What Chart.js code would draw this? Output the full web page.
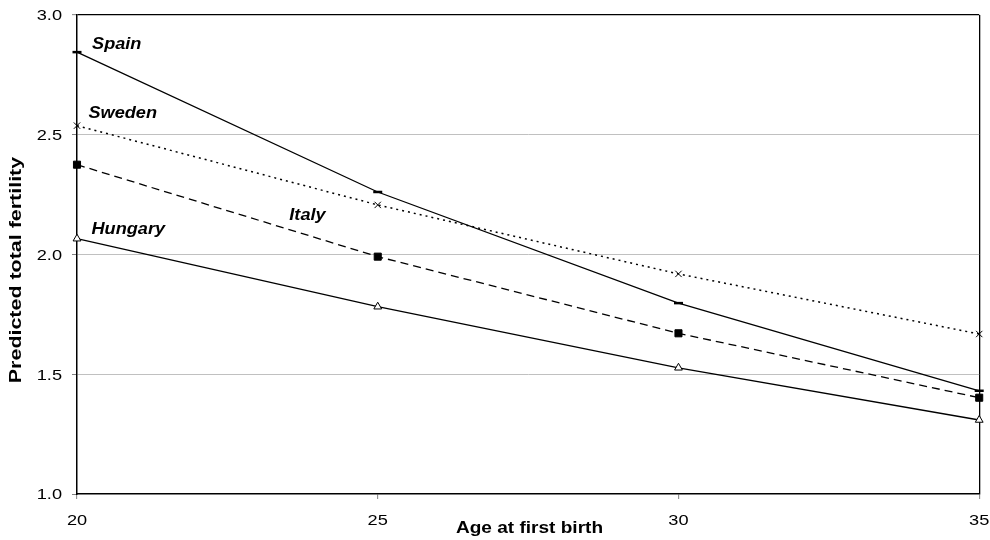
<!DOCTYPE html>
<html><head><meta charset="utf-8">
<script src="https://cdn.jsdelivr.net/npm/chart.js@4"></script>
<style>html,body{margin:0;padding:0;background:#fff}</style>
</head><body>
<canvas id="c" width="990" height="540"></canvas>
<script>
// ---- data ----
const ages = [20, 25, 30, 35];
const spain = [2.845, 2.261, 1.797, 1.431];
const sweden = [2.538, 2.207, 1.919, 1.668];
const italy = [2.375, 1.991, 1.671, 1.402];
const hungary = [2.066, 1.782, 1.527, 1.309];
const seriesNames = ['Spain', 'Sweden', 'Italy', 'Hungary'];
// label anchors in data units (age, fertility)
const labelAges = [20.25, 20.19, 23.53, 20.24];
const labelValues = [2.879, 2.591, 2.165, 2.106];
const xTitle = 'Age at first birth';
const yTitle = 'Predicted total fertility';

const pts = arr => ages.map((a, i) => ({x: a, y: arr[i]}));
const FONT = '"Liberation Sans", Arial, Helvetica, sans-serif';

function stretchText(ctx, text, x, y, sx, align, rot) {
  ctx.save();
  ctx.translate(x, y);
  if (rot) ctx.rotate(rot);
  ctx.scale(sx, 1);
  ctx.textAlign = align;
  ctx.textBaseline = 'middle';
  ctx.fillText(text, 0, 0);
  ctx.restore();
}

const textPlugin = {
  id: 'textPlugin',
  afterDraw(chart) {
    const ctx = chart.ctx;
    const xs = chart.scales.x, ys = chart.scales.y;
    ctx.save();
    ctx.fillStyle = '#000';
    ctx.font = '14px ' + FONT;
    ys.ticks.forEach(t => {
      stretchText(ctx, t.label, 62, ys.getPixelForValue(t.value) + 1.5, 1.3, 'right');
    });
    xs.ticks.forEach(t => {
      stretchText(ctx, t.label, xs.getPixelForValue(t.value), 521, 1.3, 'center');
    });
    ctx.font = 'bold 16px ' + FONT;
    stretchText(ctx, xTitle, 529.5, 528.5, 1.19, 'center');
    stretchText(ctx, yTitle, 16.5, 270, 1.34, 'center', -Math.PI / 2);
    ctx.font = 'italic bold 16.5px ' + FONT;
    seriesNames.forEach((n, i) => {
      stretchText(ctx, n, xs.getPixelForValue(labelAges[i]), ys.getPixelForValue(labelValues[i]), 1.1, 'left');
    });
    ctx.restore();
  }
};

new Chart(document.getElementById('c'), {
  type: 'line',
  data: {
    datasets: [
      {label: seriesNames[0], data: pts(spain), borderColor: '#000', borderWidth: 1.3,
       pointStyle: 'line', pointRadius: 4.5, pointBorderWidth: 2.5, pointBorderColor: '#000', pointBackgroundColor: '#000'},
      {label: seriesNames[1], data: pts(sweden), borderColor: '#000', borderWidth: 1.5, borderDash: [2, 4],
       pointStyle: 'crossRot', pointRadius: 4.5, pointBorderWidth: 1, pointBorderColor: '#000', pointBackgroundColor: '#000'},
      {label: seriesNames[2], data: pts(italy), borderColor: '#000', borderWidth: 1.3, borderDash: [8, 5],
       pointStyle: 'rect', pointRadius: 5, pointBorderWidth: 1, pointBorderColor: '#000', pointBackgroundColor: '#000'},
      {label: seriesNames[3], data: pts(hungary), borderColor: '#000', borderWidth: 1.3,
       pointStyle: 'triangle', pointRadius: 4.5, pointBorderWidth: 1, pointBorderColor: '#000', pointBackgroundColor: '#fff'}
    ]
  },
  options: {
    responsive: false,
    animation: false,
    clip: false,
    devicePixelRatio: 1,
    layout: {padding: {left: 0, top: 15, right: 10, bottom: 0}},
    plugins: {legend: {display: false}, tooltip: {enabled: false}},
    elements: {line: {tension: 0}},
    scales: {
      x: {
        type: 'linear', min: 20, max: 35,
        ticks: {stepSize: 5, color: 'rgba(0,0,0,0)', font: {size: 14, family: FONT}},
        grid: {
          color: c => c.tick && c.tick.value === 35 ? '#000' : 'rgba(0,0,0,0)',
          lineWidth: 1.3, tickColor: '#808080', tickLength: 5, tickWidth: 1
        },
        border: {display: true, color: '#000', width: 1.5},
        afterFit: s => { s.height = 46; }
      },
      y: {
        type: 'linear', min: 1.0, max: 3.0,
        ticks: {stepSize: 0.5, color: 'rgba(0,0,0,0)', font: {size: 14, family: FONT}, callback: v => Number(v).toFixed(1)},
        grid: {
          color: c => !c.tick ? '#c0c0c0' : (c.tick.value === 3 ? '#000' : (c.tick.value === 1 ? 'rgba(0,0,0,0)' : '#c0c0c0')),
          lineWidth: c => c.tick && c.tick.value === 3 ? 1.3 : 1,
          tickColor: '#808080', tickLength: 5, tickWidth: 1
        },
        border: {display: true, color: '#000', width: 1.5},
        afterFit: s => { s.width = 77; }
      }
    }
  },
  plugins: [textPlugin]
});
</script>
</body></html>
